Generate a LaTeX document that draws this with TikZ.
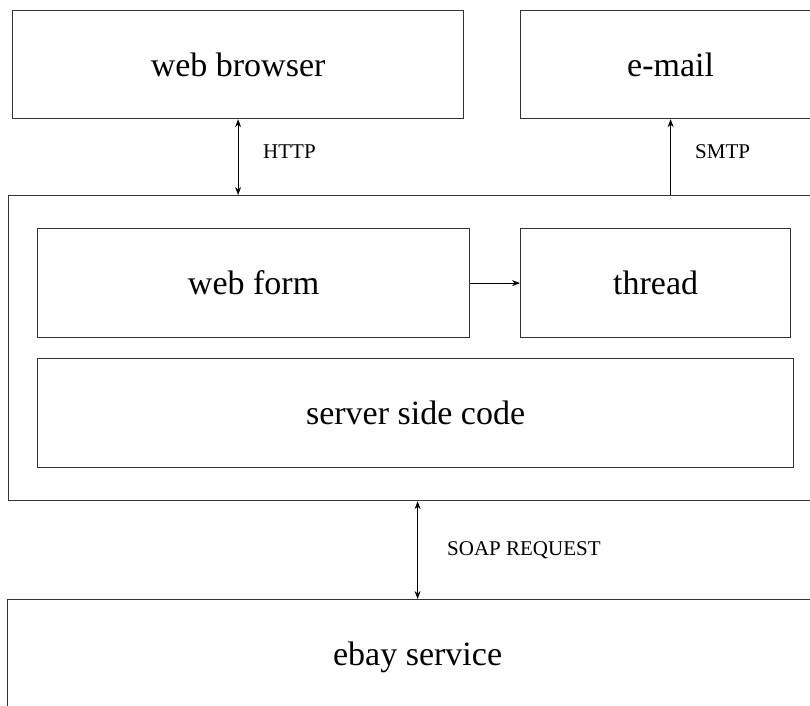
\documentclass[tikz,border=0pt]{standalone}
\usepackage{fontspec}
\setmainfont{Liberation Serif}
\usetikzlibrary{arrows.meta}
\tikzset{
  block/.style = {draw = black!80, line width = 1.2pt, anchor = north west, inner sep = 0pt,
                  font = \fontsize{34}{40}\selectfont},
  proto/.style = {font = \fontsize{21}{25}\selectfont, inner sep = 0pt},
  link/.style  = {line width = 1pt, {Stealth[length=8pt, width=6pt]}-{Stealth[length=8pt, width=6pt]}}
}
\begin{document}
\begin{tikzpicture}[x = 1pt, y = -1pt]
            \useasboundingbox (0, 0) rectangle (810, 705);
            \clip (0, 0) rectangle (810, 705);
            \node [block, minimum width = 451pt, minimum height = 108pt] (browser) at (12, 10) {web browser};
            \node [block, minimum width = 300pt, minimum height = 108pt] (email) at (520, 10) {e-mail};
            \node [block, minimum width = 818pt, minimum height = 305pt] (server) at (8, 195) {};
            \node [block, minimum width = 432pt, minimum height = 109pt] (webform) at (37, 228) {web form};
            \node [block, minimum width = 270pt, minimum height = 109pt] (thread) at (520, 228) {thread};
            \node [block, minimum width = 756pt, minimum height = 109pt] (code) at (37, 358) {server side code};
            \node [block, minimum width = 820pt, minimum height = 116pt] (ebay) at (7, 599) {ebay service};
            \draw [link] (browser.south) -- (browser.south |- server.north);
            \draw [link, {Stealth[length=8pt, width=6pt]}-] (email.south) -- (email.south |- server.north);
            \draw [link, -{Stealth[length=8pt, width=6pt]}] (webform.east) -- (thread.west);
            \draw [link] (server.south) -- (ebay.north);
            \node [proto, anchor = west] (http) at (263, 152) {HTTP};
            \node [proto, anchor = west] (smtp) at (695, 152) {SMTP};
            \node [proto, anchor = west] (soap) at (447, 550) {SOAP REQUEST};
        \end{tikzpicture}
\end{document}
